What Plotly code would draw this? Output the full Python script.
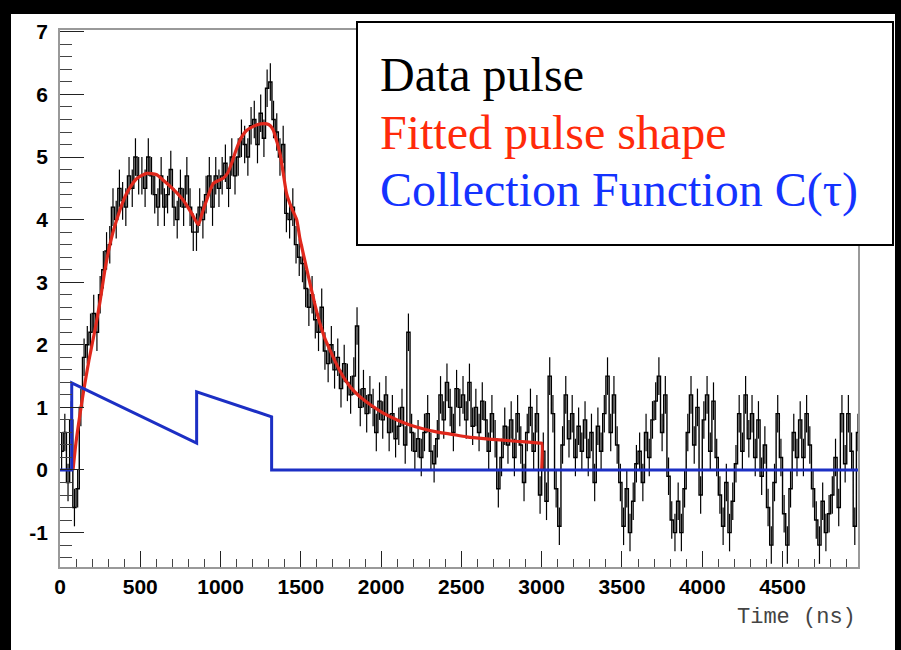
import plotly.graph_objects as go

# ---------------- data ----------------
# Data pulse: histogram contents, 20 ns bins starting at 0 ns
bin_width = 20
data_pulse = [
    0.3, 0.6, -0.2, 0.8, -0.6,
    -0.3, 1.0, 1.8, 2.0, 2.2,
    2.5, 2.2, 2.8, 3.2, 3.5,
    3.6, 4.2, 4.0, 4.5, 4.3,
    4.2, 4.7, 4.5, 5.0, 4.7,
    4.7, 4.5, 5.0, 4.7, 4.4,
    4.2, 4.7, 4.2, 4.4, 4.8,
    4.2, 4.0, 4.5, 4.2, 4.7,
    4.2, 3.8, 3.8, 4.2, 4.0,
    4.4, 4.7, 4.2, 4.7, 4.5,
    4.7, 4.9, 4.5, 5.0, 4.7,
    5.0, 5.3, 5.2, 5.0, 5.5,
    5.6, 5.2, 5.7, 5.3, 6.1,
    6.2, 5.6, 5.4, 5.0, 5.2,
    4.1, 4.0, 4.2, 3.6, 3.4,
    3.3, 2.9, 2.6, 2.8, 2.4,
    2.2, 2.6, 1.9, 1.7, 2.0,
    1.6, 1.8, 1.3, 1.7, 1.4,
    1.2, 1.5, 2.3, 1.0, 1.3,
    0.9, 1.2, 1.0, 0.6, 1.1,
    0.8, 1.2, 0.6, 0.9, 0.5,
    0.7, 1.0, 0.4, 2.2, 0.6,
    0.3, 0.5, 0.2, 0.6, 0.9,
    0.3, 0.1, 0.5, 1.2, 0.8,
    1.4, 1.0, 0.6, 1.3, 1.0,
    1.2, 0.8, 1.4, 0.7, 1.0,
    0.6, 1.1, 0.8, 0.3, 0.9,
    0.5, -0.3, 0.2, 0.7, 0.4,
    0.8, 0.2, 0.9, 0.4, -0.2,
    0.6, 1.0, 0.3, 0.9, -0.4,
    0.3, -0.5, 1.5, 0.9, -0.3,
    -0.9, 0.4, 1.2, 0.5, 0.9,
    0.2, 0.7, 0.3, 0.8, 0.2,
    0.6, -0.2, 0.7, 0.3, 0.9,
    1.5, 0.6, 1.2, 0.4, -0.2,
    -0.9, -0.3, -1.0, -0.5, 0.1,
    0.3, -0.2, 0.6, 0.2, 0.8,
    1.1, 1.5, 0.6, 1.2, -0.1,
    -0.8, -1.0, -0.5, -1.0, -0.3,
    0.6, 1.2, 0.4, 1.0, -0.4,
    0.8, 1.2, 0.3, 1.1, 0.2,
    -0.4, -0.9, -0.2, -1.0, -0.5,
    0.1, 0.9, 0.3, 1.2, 0.5,
    0.9, 0.2, 0.8, -0.1, 0.4,
    -0.6, -1.2, -0.2, 0.9, 0.2,
    -0.7, -1.2, -0.3, 0.6, 0.2,
    0.8, 0.2, 0.9, 0.4, -0.3,
    -0.8, -1.2, -0.5, -1.0, -0.7,
    -0.4, 0.2, -0.6, 0.9, 0.1,
    0.9, 0.3, -0.9, 0.6,
]
data_err = 0.3

# Fitted pulse shape (ns, amplitude)
fit_t = [81, 100, 125, 145, 180, 218, 250, 280, 315, 353, 415, 475, 540, 600,
         643, 700, 768, 820, 861, 885, 913, 955, 1017, 1045, 1069, 1095, 1121,
         1160, 1204, 1250, 1287, 1310, 1328, 1350, 1370, 1390, 1411, 1440, 1474,
         1494, 1520, 1557, 1590, 1619, 1650, 1681, 1720, 1764, 1810, 1868, 1940,
         2013, 2100, 2179, 2260, 2345, 2440, 2532, 2640, 2740, 2860, 2989, 3000,
         3000]
fit_v = [0.0, 0.45, 0.9, 1.23, 1.75, 2.24, 2.7, 3.2, 3.65, 4.0, 4.42, 4.65, 4.74,
         4.72, 4.63, 4.5, 4.31, 4.1, 3.92, 4.1, 4.31, 4.58, 4.66, 4.75, 4.9, 5.1,
         5.27, 5.42, 5.49, 5.53, 5.53, 5.5, 5.43, 5.25, 5.06, 4.75, 4.42, 4.2, 4.0,
         3.7, 3.4, 2.98, 2.62, 2.34, 2.1, 1.92, 1.7, 1.49, 1.32, 1.17, 1.03, 0.91,
         0.8, 0.72, 0.66, 0.61, 0.57, 0.53, 0.5, 0.48, 0.455, 0.43, 0.43, 0.0]

# Collection function C(tau)
coll_t = [0, 73, 73, 851, 851, 1318, 1318, 4970]
coll_v = [0, 0, 1.39, 0.43, 1.25, 0.85, 0, 0]

x_ticks = [0, 500, 1000, 1500, 2000, 2500, 3000, 3500, 4000, 4500]
y_ticks = [-1, 0, 1, 2, 3, 4, 5, 6, 7]
y_tick_text = ["-1", "0", "1", "2", "3", "4", "5", "6", "7"]
legend_lines = ["Data pulse", "Fitted pulse shape", "Collection Function C(τ)"]
legend_colors = ["#000000", "#ff2a0a", "#1433ff"]
x_title = "Time (ns)"

# ---------------- figure ----------------
W, H = 901, 650
L, R, T, B = 60, 43, 30, 83
pw, ph = W - L - R, H - T - B


def px(x):
    return (x - L) / pw


def py(y):
    return (H - B - y) / ph


bin_centers = [bin_width * (i + 0.5) for i in range(len(data_pulse))]

fig = go.Figure()
fig.add_trace(go.Scatter(
    x=bin_centers, y=data_pulse, mode="lines", line_shape="hvh",
    line=dict(color="black", width=1.4),
    error_y=dict(type="constant", value=data_err, thickness=1.2, width=0,
                 color="black"),
    hoverinfo="skip", showlegend=False))
fig.add_trace(go.Scatter(
    x=fit_t, y=fit_v, mode="lines", line_shape="spline",
    line=dict(color="#e0281c", width=3.2, smoothing=0.6),
    hoverinfo="skip", showlegend=False))
fig.add_trace(go.Scatter(
    x=coll_t, y=coll_v, mode="lines",
    line=dict(color="#1c2fc4", width=3),
    hoverinfo="skip", showlegend=False))

tickfont = dict(family="Liberation Sans, Arial, sans-serif", size=21,
                color="black", weight="bold")

fig.update_xaxes(
    range=[0, 4970], tickvals=x_ticks, ticks="inside", ticklen=16,
    tickcolor="#222", tickwidth=1, showline=True, linecolor="#999",
    linewidth=1.5, mirror=True, showgrid=False, zeroline=False,
    tickfont=tickfont,
    minor=dict(ticks="inside", ticklen=8, dtick=100, tickcolor="#444",
               showgrid=False))
fig.update_yaxes(
    range=[-1.55, 7.03], tickvals=y_ticks, ticktext=y_tick_text,
    ticks="inside", ticklen=24,
    tickcolor="#222", tickwidth=1, showline=True, linecolor="#999",
    linewidth=1.5, mirror=True, showgrid=False, zeroline=False,
    tickfont=tickfont, ticklabelstandoff=6,
    minor=dict(ticks="inside", ticklen=12, dtick=0.2, tickcolor="#444",
               showgrid=False))

shapes = [
    # black border strips of the page
    dict(type="rect", xref="paper", yref="paper", layer="below",
         x0=px(-5), x1=px(W + 5), y0=py(14), y1=py(-5),
         fillcolor="black", line=dict(width=0)),
    dict(type="rect", xref="paper", yref="paper", layer="below",
         x0=px(-5), x1=px(11), y0=py(H + 5), y1=py(-5),
         fillcolor="black", line=dict(width=0)),
    dict(type="rect", xref="paper", yref="paper", layer="below",
         x0=px(895), x1=px(W + 5), y0=py(H + 5), y1=py(-5),
         fillcolor="black", line=dict(width=0)),
    # legend box
    dict(type="rect", xref="paper", yref="paper", layer="above",
         x0=px(357), x1=px(893), y0=py(245), y1=py(22),
         fillcolor="white", line=dict(color="black", width=2)),
]

annotations = []
for i, (txt, col) in enumerate(zip(legend_lines, legend_colors)):
    annotations.append(dict(
        text=txt, xref="paper", yref="paper", x=px(378), y=py(74 + i * 58),
        xanchor="left", yanchor="middle", showarrow=False,
        font=dict(family="Liberation Serif, Times New Roman, serif", size=48,
                  color=col)))
annotations.append(dict(
    text=x_title, xref="paper", yref="paper", x=px(858), y=py(617),
    xanchor="right", yanchor="middle", showarrow=False,
    font=dict(family="Liberation Mono, Courier New, monospace", size=22,
              color="#444")))

fig.update_layout(
    width=W, height=H, margin=dict(l=L, r=R, t=T, b=B, autoexpand=False),
    paper_bgcolor="white", plot_bgcolor="white",
    shapes=shapes, annotations=annotations, showlegend=False)

fig.write_html("out.html")
